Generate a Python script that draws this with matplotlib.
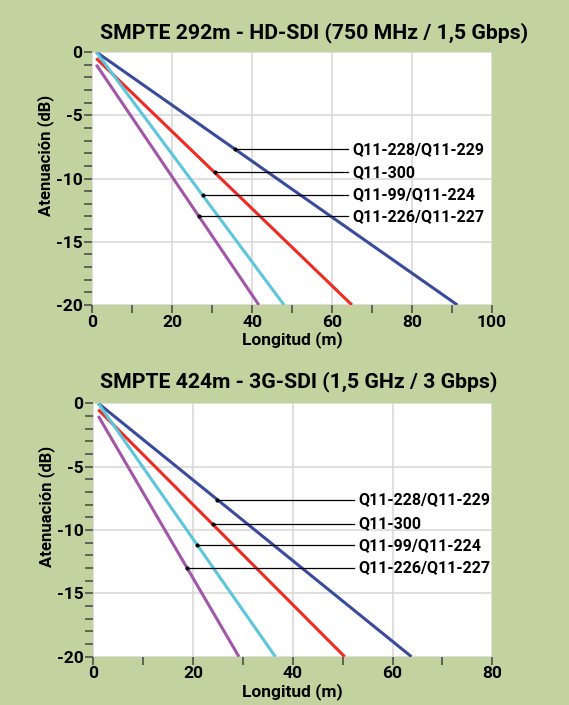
import matplotlib
matplotlib.use("Agg")
import matplotlib.pyplot as plt
from matplotlib.ticker import MultipleLocator

plt.rcParams['font.family'] = ['Roboto', 'DejaVu Sans']
plt.rcParams['font.weight'] = 'bold'
plt.rcParams['axes.unicode_minus'] = False

bg_color = "#c3d3a0"
series_names = ["Q11-228/Q11-229", "Q11-300", "Q11-99/Q11-224", "Q11-226/Q11-227"]
series_colors = ["#3a4a9c", "#ee2a22", "#5bc6dc", "#a356a8"]

# HD-SDI chart: line start/end (length m, attenuation dB)
hd_x_start = [1, 1, 1, 1]
hd_y_start = [0, -0.5, 0, -1]
hd_x_end = [91.4, 65.0, 48.0, 41.7]
hd_y_end = [-20, -20, -20, -20]
hd_anchor_x = [35.7, 30.8, 27.8, 26.8]
hd_label_y = [-7.7, -9.5, -11.3, -13.0]

# 3G-SDI chart
g3_x_start = [1, 1, 1, 1]
g3_y_start = [0, -0.5, 0, -1]
g3_x_end = [63.8, 50.4, 36.5, 29.2]
g3_y_end = [-20, -20, -20, -20]
g3_anchor_x = [24.9, 23.9, 20.8, 18.7]
g3_label_y = [-7.6, -9.5, -11.2, -13.0]

fig = plt.figure(figsize=(5.69, 7.05), dpi=100)
fig.patch.set_facecolor(bg_color)


def draw(ax, xs, ys, xe, ye, anchors, label_y, xmax, label_x, title, title_y):
    ax.set_facecolor("white")
    for i in range(len(series_names)):
        ax.plot([xs[i], xe[i]], [ys[i], ye[i]], color=series_colors[i], lw=2.2,
                solid_capstyle="butt", zorder=3)
    for i in range(len(series_names)):
        ax.plot([anchors[i], label_x - 1.0 * xmax / 100], [label_y[i], label_y[i]],
                color="black", lw=0.9, zorder=4)
        ax.plot(anchors[i], label_y[i], "o", color="black", ms=2, zorder=5)
        ax.text(label_x, label_y[i], series_names[i], fontsize=11.5, fontweight="bold",
                va="center", ha="left", zorder=5)
    ax.set_xlim(0, xmax)
    ax.set_ylim(-20, 0)
    ax.xaxis.set_major_locator(MultipleLocator(20))
    ax.xaxis.set_minor_locator(MultipleLocator(10))
    ax.yaxis.set_major_locator(MultipleLocator(5))
    ax.yaxis.set_minor_locator(MultipleLocator(1))
    ax.grid(True, which="major", color="#d9d9d9", lw=1.2, zorder=0)
    for s in ax.spines.values():
        s.set_visible(False)
    ax.tick_params(which="both", color="#444444", width=1.1, labelsize=12.5)
    ax.tick_params(which="major", length=6, pad=1)
    ax.tick_params(which="minor", length=6)
    ax.set_xlabel("Longitud (m)", fontsize=12.5, fontweight="bold")
    ax.xaxis.set_label_coords(0.5, -0.105)
    ax.set_ylabel("Atenuación (dB)", fontsize=12, fontweight="bold")
    ax.yaxis.set_label_coords(-0.096, 0.592)
    fig.text(100 / 569, title_y, title, fontsize=15.3, fontweight="bold",
             ha="left", va="center")


ax1 = fig.add_axes([0.1622, 0.5674, 0.702, 0.3588])
draw(ax1, hd_x_start, hd_y_start, hd_x_end, hd_y_end, hd_anchor_x, hd_label_y,
     100, 65.0, "SMPTE 292m - HD-SDI (750 MHz / 1,5 Gbps)", 1 - 33 / 705)

ax2 = fig.add_axes([0.164, 0.0685, 0.7012, 0.3594])
draw(ax2, g3_x_start, g3_y_start, g3_x_end, g3_y_end, g3_anchor_x, g3_label_y,
     80, 53.1, "SMPTE 424m - 3G-SDI (1,5 GHz / 3 Gbps)", 1 - 382 / 705)

fig.savefig("out.png", dpi=100, facecolor=bg_color)
